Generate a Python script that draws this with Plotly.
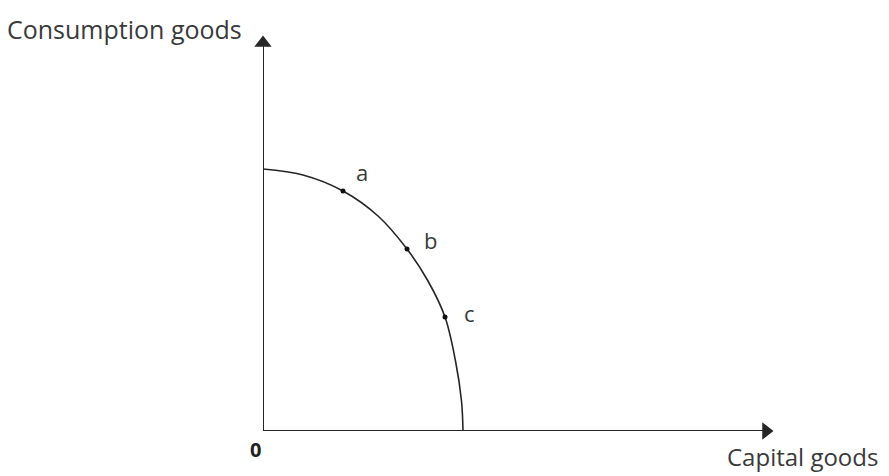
import plotly.graph_objects as go

# PPF curve points (capital goods, consumption goods)
curve_x = [0, 0.8, 1.6, 2.3, 2.88, 3.3, 3.64, 3.85, 3.97, 4.0]
curve_y = [5.24, 5.12, 4.8, 4.3, 3.64, 3.0, 2.28, 1.4, 0.6, 0.0]

point_labels = ["a", "b", "c"]
point_x = [1.6, 2.88, 3.64]
point_y = [4.8, 3.64, 2.28]

x_max = 10.24
y_max = 7.94

x_title = "Capital goods"
y_title = "Consumption goods"
origin_label = "0"

line_col = "#262626"
text_col = "#3a3a3a"
font_family = "'Open Sans', sans-serif"

fig = go.Figure()

# axes lines
fig.add_trace(go.Scatter(x=[0, 0], y=[0, y_max - 0.12], mode="lines",
                         line=dict(color=line_col, width=2), hoverinfo="skip", cliponaxis=False))
fig.add_trace(go.Scatter(x=[0, x_max - 0.12], y=[0, 0], mode="lines",
                         line=dict(color=line_col, width=2), hoverinfo="skip", cliponaxis=False))
# arrow heads
fig.add_trace(go.Scatter(x=[0], y=[y_max - 0.18], mode="markers",
                         marker=dict(symbol="triangle-up", size=15, color=line_col),
                         hoverinfo="skip", cliponaxis=False))
fig.add_trace(go.Scatter(x=[x_max - 0.18], y=[0], mode="markers",
                         marker=dict(symbol="triangle-right", size=15, color=line_col),
                         hoverinfo="skip", cliponaxis=False))

# curve
fig.add_trace(go.Scatter(x=curve_x, y=curve_y, mode="lines", line_shape="spline",
                         line=dict(color=line_col, width=1.6), hoverinfo="skip", cliponaxis=False))
# points
fig.add_trace(go.Scatter(x=point_x, y=point_y, mode="markers",
                         marker=dict(symbol="circle", size=5, color="#111"),
                         hoverinfo="skip", cliponaxis=False))

# point labels
offsets = [(19, -19), (23, -9), (24, -4)]
for lab, px, py, (dx, dy) in zip(point_labels, point_x, point_y, offsets):
    fig.add_annotation(x=px, y=py, text=lab, showarrow=False, xshift=dx, yshift=-dy,
                       font=dict(size=22, color=text_col, family=font_family))

fig.add_annotation(x=0, y=0, text="<b>" + origin_label + "</b>", showarrow=False, xshift=-8, yshift=-18,
                   font=dict(size=20, color="#222", family=font_family))

fig.add_annotation(xref="paper", yref="paper", x=0, y=1, xshift=-258, yshift=-14,
                   xanchor="left", yanchor="bottom", text=y_title, showarrow=False,
                   font=dict(size=25, color=text_col, family=font_family))
fig.add_annotation(xref="paper", yref="paper", x=1, y=0, xshift=105, yshift=-7,
                   xanchor="right", yanchor="top", text=x_title, showarrow=False,
                   font=dict(size=24, color=text_col, family=font_family))

fig.update_layout(
    width=881, height=468,
    margin=dict(l=255, r=114, t=26, b=45),
    paper_bgcolor="white", plot_bgcolor="white",
    showlegend=False,
    xaxis=dict(range=[0, x_max], visible=False, fixedrange=True),
    yaxis=dict(range=[0, y_max], visible=False, fixedrange=True),
)

fig.write_html("out.html")
